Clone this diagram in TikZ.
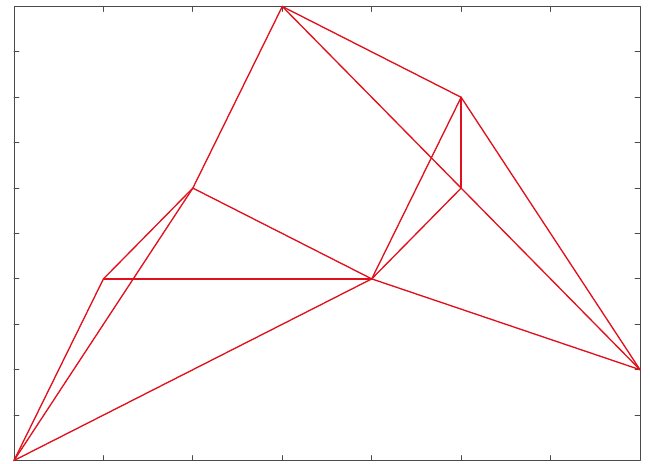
\documentclass[tikz,border=0pt]{standalone}
\usepackage{tikz}
\definecolor{edgered}{HTML}{E0101C}
\definecolor{axisgray}{HTML}{4A4A4A}
\begin{document}
\begin{tikzpicture}[
  x=67.07pt,y=34.05pt,
  line cap=round,line join=round,
  frame/.style={draw=axisgray,line width=.6pt},
  tick/.style={draw=axisgray,line width=.6pt},
  edge/.style={draw=edgered,line width=1pt}
]
\useasboundingbox (-.1565,-.055) rectangle (7.1117,10.143);
% axes box and ticks
\draw[frame] (0,0) rectangle (7,10);
\foreach \x in {1,...,6}{
  \draw[tick] (\x,0) -- ++(0,3.75pt);
  \draw[tick] (\x,10) -- ++(0,-3.75pt);
}
\foreach \y in {1,...,9}{
  \draw[tick] (0,\y) -- ++(3.75pt,0);
  \draw[tick] (7,\y) -- ++(-3.75pt,0);
}
% vertices
\coordinate (a) at (0,0);
\coordinate (b) at (1,4);
\coordinate (c) at (2,6);
\coordinate (d) at (3,10);
\coordinate (e) at (4,4);
\coordinate (f) at (5,8);
\coordinate (g) at (5,6);
\coordinate (h) at (7,2);
% edges
\foreach \u/\v in {a/b,a/c,a/e,b/c,b/e,c/d,c/e,d/f,d/g,g/h,f/g,f/e,g/e,f/h,e/h}{
  \draw[edge] (\u) -- (\v);
}
\end{tikzpicture}
\end{document}
